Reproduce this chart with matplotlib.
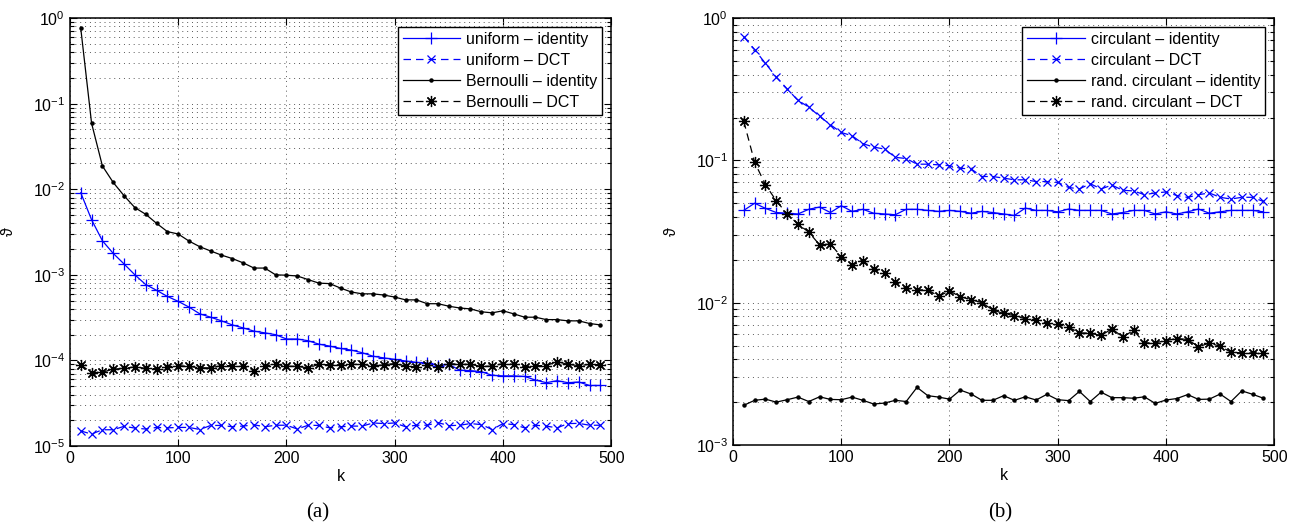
import matplotlib

matplotlib.use("Agg")
import matplotlib.pyplot as plt
from matplotlib.ticker import LogLocator, NullFormatter, MultipleLocator


# sparsity levels on the x axis
K = [10, 20, 30, 40, 50, 60, 70, 80, 90, 100,
     110, 120, 130, 140, 150, 160, 170, 180, 190, 200,
     210, 220, 230, 240, 250, 260, 270, 280, 290, 300,
     310, 320, 330, 340, 350, 360, 370, 380, 390, 400,
     410, 420, 430, 440, 450, 460, 470, 480, 490]

# panel (a)
uniform_identity = [9.1e-3, 4.4e-3, 2.5e-3, 1.78e-3, 1.34e-3, 1.0e-3, 7.7e-4, 6.6e-4, 5.6e-4, 4.9e-4,
                    4.2e-4, 3.5e-4, 3.2e-4, 2.9e-4, 2.6e-4, 2.4e-4, 2.2e-4, 2.1e-4, 2.0e-4, 1.78e-4,
                    1.78e-4, 1.7e-4, 1.55e-4, 1.47e-4, 1.38e-4, 1.32e-4, 1.23e-4, 1.12e-4, 1.07e-4, 1.03e-4,
                    9.85e-5, 9.5e-5, 9.3e-5, 8.7e-5, 9.0e-5, 7.7e-5, 7.6e-5, 7.4e-5, 6.7e-5, 6.6e-5,
                    6.6e-5, 6.5e-5, 5.9e-5, 5.5e-5, 5.8e-5, 5.5e-5, 5.6e-5, 5.1e-5, 5.1e-5]
uniform_dct = [1.5e-5, 1.38e-5, 1.55e-5, 1.55e-5, 1.7e-5, 1.62e-5, 1.58e-5, 1.65e-5, 1.63e-5, 1.65e-5,
               1.65e-5, 1.56e-5, 1.74e-5, 1.74e-5, 1.68e-5, 1.71e-5, 1.77e-5, 1.68e-5, 1.75e-5, 1.75e-5,
               1.58e-5, 1.75e-5, 1.74e-5, 1.63e-5, 1.68e-5, 1.71e-5, 1.71e-5, 1.86e-5, 1.83e-5, 1.86e-5,
               1.68e-5, 1.75e-5, 1.75e-5, 1.88e-5, 1.73e-5, 1.75e-5, 1.83e-5, 1.78e-5, 1.56e-5, 1.83e-5,
               1.78e-5, 1.63e-5, 1.75e-5, 1.71e-5, 1.63e-5, 1.83e-5, 1.84e-5, 1.75e-5, 1.75e-5]
bernoulli_identity = [0.76, 0.059, 0.0187, 0.012, 0.0084, 0.0061, 0.0051, 0.0040, 0.0032, 0.0030,
                      0.00248, 0.00213, 0.0019, 0.0017, 0.00155, 0.00138, 0.0012, 0.0012, 0.001, 0.00099,
                      0.00097, 0.00088, 0.0008, 0.00079, 0.0007, 0.00063, 0.0006, 0.0006, 0.00058, 0.00055,
                      0.00051, 0.00051, 0.00046, 0.00046, 0.00043, 0.00041, 0.0004, 0.00037, 0.00036, 0.00038,
                      0.00035, 0.00032, 0.00032, 0.0003, 0.0003, 0.00029, 0.00029, 0.00027, 0.00026]
bernoulli_dct = [8.9e-5, 7.2e-5, 7.3e-5, 7.9e-5, 8.1e-5, 8.4e-5, 8.1e-5, 8.0e-5, 8.4e-5, 8.7e-5,
                 8.5e-5, 8.2e-5, 8.2e-5, 8.7e-5, 8.7e-5, 8.5e-5, 7.6e-5, 8.6e-5, 9.0e-5, 8.6e-5,
                 8.5e-5, 8.2e-5, 9.0e-5, 8.9e-5, 8.9e-5, 9.0e-5, 9.0e-5, 8.6e-5, 8.9e-5, 9.2e-5,
                 8.6e-5, 8.4e-5, 8.8e-5, 8.4e-5, 9.2e-5, 9.0e-5, 9.0e-5, 8.5e-5, 8.6e-5, 9.2e-5,
                 9.0e-5, 8.4e-5, 8.7e-5, 8.7e-5, 9.7e-5, 9.0e-5, 8.7e-5, 9.0e-5, 8.9e-5]

# panel (b)
circulant_identity = [0.0445, 0.050, 0.046, 0.043, 0.0425, 0.042, 0.0453, 0.047, 0.043, 0.048,
                      0.0438, 0.0453, 0.0425, 0.042, 0.0415, 0.0453, 0.0453, 0.0445, 0.0438, 0.0445,
                      0.0438, 0.0425, 0.0438, 0.043, 0.042, 0.041, 0.0462, 0.0445, 0.0445, 0.0435,
                      0.0455, 0.0445, 0.0445, 0.0445, 0.042, 0.043, 0.0445, 0.0445, 0.042, 0.0435,
                      0.042, 0.0435, 0.0455, 0.0425, 0.0435, 0.0445, 0.0445, 0.0445, 0.0435]
circulant_dct = [0.74, 0.60, 0.48, 0.385, 0.318, 0.264, 0.237, 0.204, 0.178, 0.157,
                 0.149, 0.131, 0.124, 0.12, 0.105, 0.103, 0.094, 0.094, 0.093, 0.0917,
                 0.088, 0.087, 0.077, 0.077, 0.075, 0.073, 0.073, 0.071, 0.071, 0.070,
                 0.0645, 0.063, 0.0685, 0.063, 0.067, 0.0616, 0.061, 0.0574, 0.059, 0.060,
                 0.0566, 0.0549, 0.0574, 0.059, 0.055, 0.0535, 0.055, 0.055, 0.0514]
rand_circulant_identity = [0.0019, 0.00206, 0.0021, 0.0020, 0.00208, 0.00217, 0.00202, 0.00218, 0.00209, 0.00208,
                           0.00217, 0.00206, 0.00194, 0.00197, 0.00206, 0.00202, 0.00254, 0.00222, 0.00217, 0.0021,
                           0.00243, 0.00228, 0.00206, 0.00206, 0.00222, 0.00206, 0.00218, 0.00207, 0.00227, 0.00208,
                           0.00205, 0.00238, 0.00202, 0.00235, 0.00215, 0.00215, 0.00213, 0.00218, 0.00196, 0.00207,
                           0.00212, 0.00226, 0.00209, 0.0021, 0.00228, 0.00202, 0.0024, 0.00227, 0.00213]
rand_circulant_dct = [0.188, 0.097, 0.0674, 0.052, 0.042, 0.0357, 0.0313, 0.0255, 0.0258, 0.0211,
                      0.0184, 0.0197, 0.0172, 0.0161, 0.014, 0.0126, 0.0123, 0.0123, 0.0111, 0.0121,
                      0.011, 0.0105, 0.010, 0.00887, 0.0084, 0.0081, 0.0077, 0.0076, 0.00714, 0.00703,
                      0.00673, 0.00614, 0.0061, 0.00588, 0.00655, 0.00575, 0.00638, 0.00522, 0.00522, 0.00542,
                      0.0056, 0.00551, 0.0049, 0.0052, 0.00494, 0.00449, 0.00444, 0.00444, 0.00444]

LABELS_A = ["uniform \u2013 identity", "uniform \u2013 DCT",
            "Bernoulli \u2013 identity", "Bernoulli \u2013 DCT"]
LABELS_B = ["circulant \u2013 identity", "circulant \u2013 DCT",
            "rand. circulant \u2013 identity", "rand. circulant \u2013 DCT"]

BLUE = "#0000ff"
ASTERISK = (8, 2, 0)

plt.rcParams["font.family"] = ["Liberation Sans", "DejaVu Sans"]
plt.rcParams["mathtext.fontset"] = "custom"
plt.rcParams["mathtext.rm"] = "Liberation Sans"
plt.rcParams["mathtext.it"] = "Liberation Sans:italic"
plt.rcParams["axes.unicode_minus"] = True


def style_axes(ax, ylim):
    ax.set_yscale("log")
    ax.set_xlim(0, 500)
    ax.set_ylim(*ylim)
    ax.xaxis.set_major_locator(MultipleLocator(100))
    ax.yaxis.set_major_locator(LogLocator(base=10, numticks=10))
    ax.yaxis.set_minor_locator(LogLocator(base=10, subs=range(2, 10), numticks=20))
    ax.yaxis.set_minor_formatter(NullFormatter())
    ax.tick_params(which="both", direction="in", top=True, right=True, labelsize=11.5, width=0.8)
    ax.tick_params(which="major", length=5)
    ax.tick_params(which="minor", length=3)
    ax.grid(True, which="major", axis="both", linestyle=(0, (1, 4)), color="0.35", linewidth=0.7)
    ax.grid(True, which="minor", axis="y", linestyle=(0, (1, 4)), color="0.35", linewidth=0.7)
    for spine in ax.spines.values():
        spine.set_linewidth(1.1)
    ax.set_xlabel("k", fontsize=11.5, labelpad=2)
    ax.set_ylabel("\u03d1", fontsize=11.5)
    ax.yaxis.set_label_coords(-0.1, 0.5)


def draw_panel(ax, series, labels, ylim):
    s1, s2, s3, s4 = series
    ax.plot(K, s1, color=BLUE, linestyle="-", marker="+", markersize=8, markeredgewidth=0.9,
            linewidth=0.9, label=labels[0])
    ax.plot(K, s2, color=BLUE, linestyle=(0, (6, 4)), marker="x", markersize=6, markeredgewidth=0.9,
            linewidth=0.9, label=labels[1])
    ax.plot(K, s3, color="black", linestyle="-", marker="o", markersize=2.2,
            linewidth=0.9, label=labels[2])
    ax.plot(K, s4, color="black", linestyle=(0, (6, 4)), marker=ASTERISK, markersize=8,
            markeredgewidth=0.9, linewidth=0.9, label=labels[3])
    style_axes(ax, ylim)
    leg = ax.legend(loc="upper right", fontsize=11.5, handlelength=3.6, handletextpad=0.4,
                    borderpad=0.3, labelspacing=0.38, borderaxespad=0.55,
                    fancybox=False, framealpha=1, edgecolor="black")
    leg.get_frame().set_linewidth(1.0)


def main() -> None:
    fig = plt.figure(figsize=(12.95, 5.31), dpi=100)
    ax_a = fig.add_axes([0.054, 0.160, 0.418, 0.806])
    ax_b = fig.add_axes([0.566, 0.162, 0.418, 0.804])

    draw_panel(ax_a, [uniform_identity, uniform_dct, bernoulli_identity, bernoulli_dct],
               LABELS_A, (1e-5, 1e0))
    draw_panel(ax_b, [circulant_identity, circulant_dct, rand_circulant_identity, rand_circulant_dct],
               LABELS_B, (1e-3, 1e0))

    fig.text(0.2455, 0.034, "(a)", ha="center", va="center", fontsize=15, family="Liberation Serif")
    fig.text(0.7725, 0.034, "(b)", ha="center", va="center", fontsize=15, family="Liberation Serif")

    fig.savefig("out.png", dpi=100)
    plt.close(fig)


if __name__ == "__main__":
    main()
